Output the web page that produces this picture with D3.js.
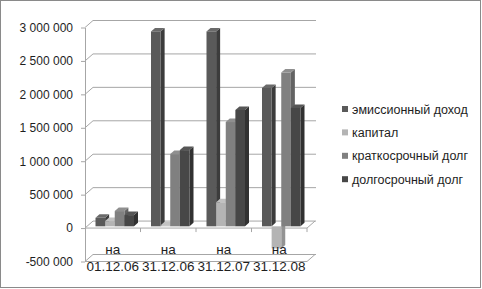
<!DOCTYPE html>
<html>
<head>
<meta charset="utf-8">
<script src="https://cdn.jsdelivr.net/npm/d3@7"></script>
<style>
  body { margin: 0; background: #fff; }
  svg { display: block; font-family: "Liberation Sans", Arial, sans-serif; }
</style>
</head>
<body>
<div id="chart"></div>
<script>
var w = 482, h = 289;

// data
var categories = ["01.12.06", "31.12.06", "31.12.07", "31.12.08"];
var series = ["эмиссионный доход", "капитал", "краткосрочный долг", "долгосрочный долг"];
var emission = [127000, 2915000, 2915000, 2070000];
var capital = [78000, 15000, 360000, -330000];
var shortDebt = [228000, 1080000, 1560000, 2300000];
var longDebt = [168000, 1140000, 1740000, 1770000];
var yTicks = [-500000, 0, 500000, 1000000, 1500000, 2000000, 2500000, 3000000];

var values = [emission, capital, shortDebt, longDebt];
var fronts = ["#5a5a5a", "#b4b4b4", "#808080", "#474747"];
var sides = ["#3c3c3c", "#939393", "#636363", "#313131"];
var tops = ["#6a6a6a", "#c2c2c2", "#8f8f8f", "#565656"];

var left = 85, right = 307;
var ddx = 8, ddy = -7; // depth of the 3d box

var x0 = d3.scaleBand().domain(categories).range([left, right]);
var x1 = d3.scaleBand().domain(series).range([8.5, x0.bandwidth() - 8.5]);
var y = d3.scaleLinear().domain([-500000, 3000000]).range([261.5, 27.5]);

var svg = d3.select("#chart").append("svg")
    .attr("width", w)
    .attr("height", h);

svg.append("rect")
    .attr("x", 0.5).attr("y", 0.5)
    .attr("width", w - 2).attr("height", h - 2)
    .attr("fill", "#fff")
    .attr("stroke", "#8a8a8a");

var grid = svg.append("g").attr("fill", "none").attr("stroke", "#a6a6a6");

// back wall gridlines with the diagonal at the left
grid.selectAll("path")
    .data(yTicks)
    .enter().append("path")
    .attr("d", function(d) {
        return "M" + left + "," + y(d) + "L" + (left + ddx) + "," + (y(d) + ddy) +
               "L" + (right + ddx + 1) + "," + (y(d) + ddy);
    });

// floor front edge
grid.append("path")
    .attr("d", "M" + left + "," + y(-500000) + "L" + right + "," + y(-500000) +
               "L" + (right + ddx) + "," + (y(-500000) + ddy));

// zero line / category axis at front
grid.append("path")
    .attr("d", "M" + left + "," + y(0) + "L" + right + "," + y(0) +
               "L" + (right + ddx) + "," + (y(0) + ddy));

grid.selectAll(".ctick")
    .data(categories)
    .enter().append("line")
    .attr("class", "ctick")
    .attr("x1", function(d) { return x0(d) + x0.bandwidth(); })
    .attr("x2", function(d) { return x0(d) + x0.bandwidth(); })
    .attr("y1", y(0))
    .attr("y2", y(0) + 4);

// y axis
var fmt = d3.formatLocale({ decimal: ",", thousands: " ", grouping: [3], currency: ["", ""], minus: "-" }).format(",");
var yAxis = svg.append("g")
    .attr("transform", "translate(" + left + ",0)")
    .call(d3.axisLeft(y).tickValues(yTicks).tickSize(4).tickSizeOuter(0).tickPadding(8).tickFormat(fmt));
yAxis.select(".domain").attr("stroke", "#a6a6a6");
yAxis.selectAll(".tick line").attr("stroke", "#a6a6a6");
yAxis.selectAll("text")
    .attr("fill", "#1e1e1e")
    .attr("font-size", 12)
    .attr("font-family", "Liberation Sans, Arial, sans-serif");

// bars
var bw = x1.bandwidth();
var bdx = ddx * 0.5, bdy = ddy * 0.5;     // bar depth
var sx = ddx * 0.25, sy = ddy * 0.25;     // bar front offset from front plane

var rows = [];
categories.forEach(function(c, ci) {
    series.forEach(function(s, si) {
        rows.push({ cat: c, ser: s, si: si, v: values[si][ci] });
    });
});

var bars = svg.append("g").selectAll("g")
    .data(rows)
    .enter().append("g");

function geom(d) {
    var xa = x0(d.cat) + x1(d.ser) + sx;
    var yTop = Math.min(y(d.v), y(0)) + sy;
    var yBot = Math.max(y(d.v), y(0)) + sy;
    return { xa: xa, xb: xa + bw, yt: yTop, yb: yBot };
}

bars.append("path")
    .attr("fill", function(d) { return sides[d.si]; })
    .attr("d", function(d) {
        var g = geom(d);
        return "M" + g.xb + "," + g.yt + "L" + (g.xb + bdx) + "," + (g.yt + bdy) +
               "L" + (g.xb + bdx) + "," + (g.yb + bdy) + "L" + g.xb + "," + g.yb + "Z";
    });
bars.filter(function(d) { return d.v > 0; }).append("path")
    .attr("fill", function(d) { return tops[d.si]; })
    .attr("d", function(d) {
        var g = geom(d);
        return "M" + g.xa + "," + g.yt + "L" + (g.xa + bdx) + "," + (g.yt + bdy) +
               "L" + (g.xb + bdx) + "," + (g.yt + bdy) + "L" + g.xb + "," + g.yt + "Z";
    });
bars.append("rect")
    .attr("fill", function(d) { return fronts[d.si]; })
    .attr("x", function(d) { return geom(d).xa; })
    .attr("y", function(d) { return geom(d).yt; })
    .attr("width", bw)
    .attr("height", function(d) { var g = geom(d); return g.yb - g.yt; });

// category labels
var clab = svg.append("g")
    .attr("font-size", 13.5)
    .attr("fill", "#1e1e1e")
    .attr("text-anchor", "middle")
    .selectAll("text")
    .data(categories)
    .enter().append("text")
    .attr("x", function(d) { return x0(d) + x0.bandwidth() / 2; });
clab.append("tspan")
    .attr("y", 254)
    .attr("x", function(d) { return x0(d) + x0.bandwidth() / 2; })
    .text("на");
clab.append("tspan")
    .attr("y", 271)
    .attr("x", function(d) { return x0(d) + x0.bandwidth() / 2; })
    .text(function(d) { return d; });

// legend
var legend = svg.append("g")
    .attr("font-size", 12.5)
    .attr("fill", "#1e1e1e")
    .selectAll("g")
    .data(series)
    .enter().append("g")
    .attr("transform", function(d, i) { return "translate(342," + (109 + i * 23.4) + ")"; });
legend.append("rect")
    .attr("x", 0).attr("y", -3)
    .attr("width", 6).attr("height", 6)
    .attr("fill", function(d, i) { return fronts[i]; });
legend.append("text")
    .attr("x", 10)
    .attr("y", 4.5)
    .text(function(d) { return d; });
</script>
</body>
</html>
